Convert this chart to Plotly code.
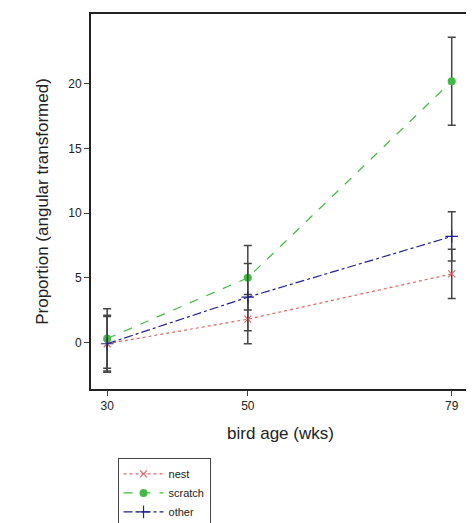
import plotly.graph_objects as go

age = [30, 50, 79]
nest = [-0.1, 1.8, 5.3]
nest_err = [2.2, 1.9, 1.9]
scratch = [0.3, 5.0, 20.2]
scratch_err = [2.3, 2.5, 3.4]
other = [-0.1, 3.5, 8.2]
other_err = [2.1, 2.6, 1.9]

def err(e):
    return dict(type="data", array=e, color="#444", thickness=1.5, width=4)

fig = go.Figure()
fig.add_trace(go.Scatter(x=age, y=nest, name="nest", mode="lines+markers",
                         line=dict(color="#e06666", dash="dot", width=1.2),
                         marker=dict(symbol="x-thin", size=7, line=dict(color="#e06666", width=1.2)),
                         error_y=err(nest_err)))
fig.add_trace(go.Scatter(x=age, y=scratch, name="scratch", mode="lines+markers",
                         line=dict(color="#44bb44", dash="dash", width=1.2),
                         marker=dict(symbol="circle", size=8, color="#44bb44"),
                         error_y=err(scratch_err)))
fig.add_trace(go.Scatter(x=age, y=other, name="other", mode="lines+markers",
                         line=dict(color="#22228a", dash="dashdot", width=1.2),
                         marker=dict(symbol="cross-thin", size=9, line=dict(color="#22228a", width=1.2)),
                         error_y=err(other_err)))

fig.update_layout(
    width=474, height=523, template="simple_white",
    margin=dict(l=83, r=12, t=4, b=131, pad=0),
    font=dict(family="Liberation Sans, Arial", size=12, color="#222"),
    legend=dict(x=0.07, y=-0.185, xanchor="left", yanchor="top",
                bordercolor="#444", borderwidth=1, font=dict(size=11),
                tracegroupgap=0, itemwidth=40),
)
fig.update_xaxes(range=[27.7, 81.6], tickvals=age, ticks="outside", mirror=True,
                 showline=True, linewidth=2, linecolor="#222", tickfont=dict(size=12, color="#222"),
                 title=dict(text="bird age (wks)", font=dict(size=17)))
fig.update_yaxes(range=[-3.6, 25.4], tickvals=[0, 5, 10, 15, 20], ticks="outside", mirror=True,
                 showline=True, linewidth=2, linecolor="#222", tickfont=dict(size=12, color="#222"),
                 title=dict(text="Proportion (angular transformed)", font=dict(size=17)))

fig.write_html("out.html")
